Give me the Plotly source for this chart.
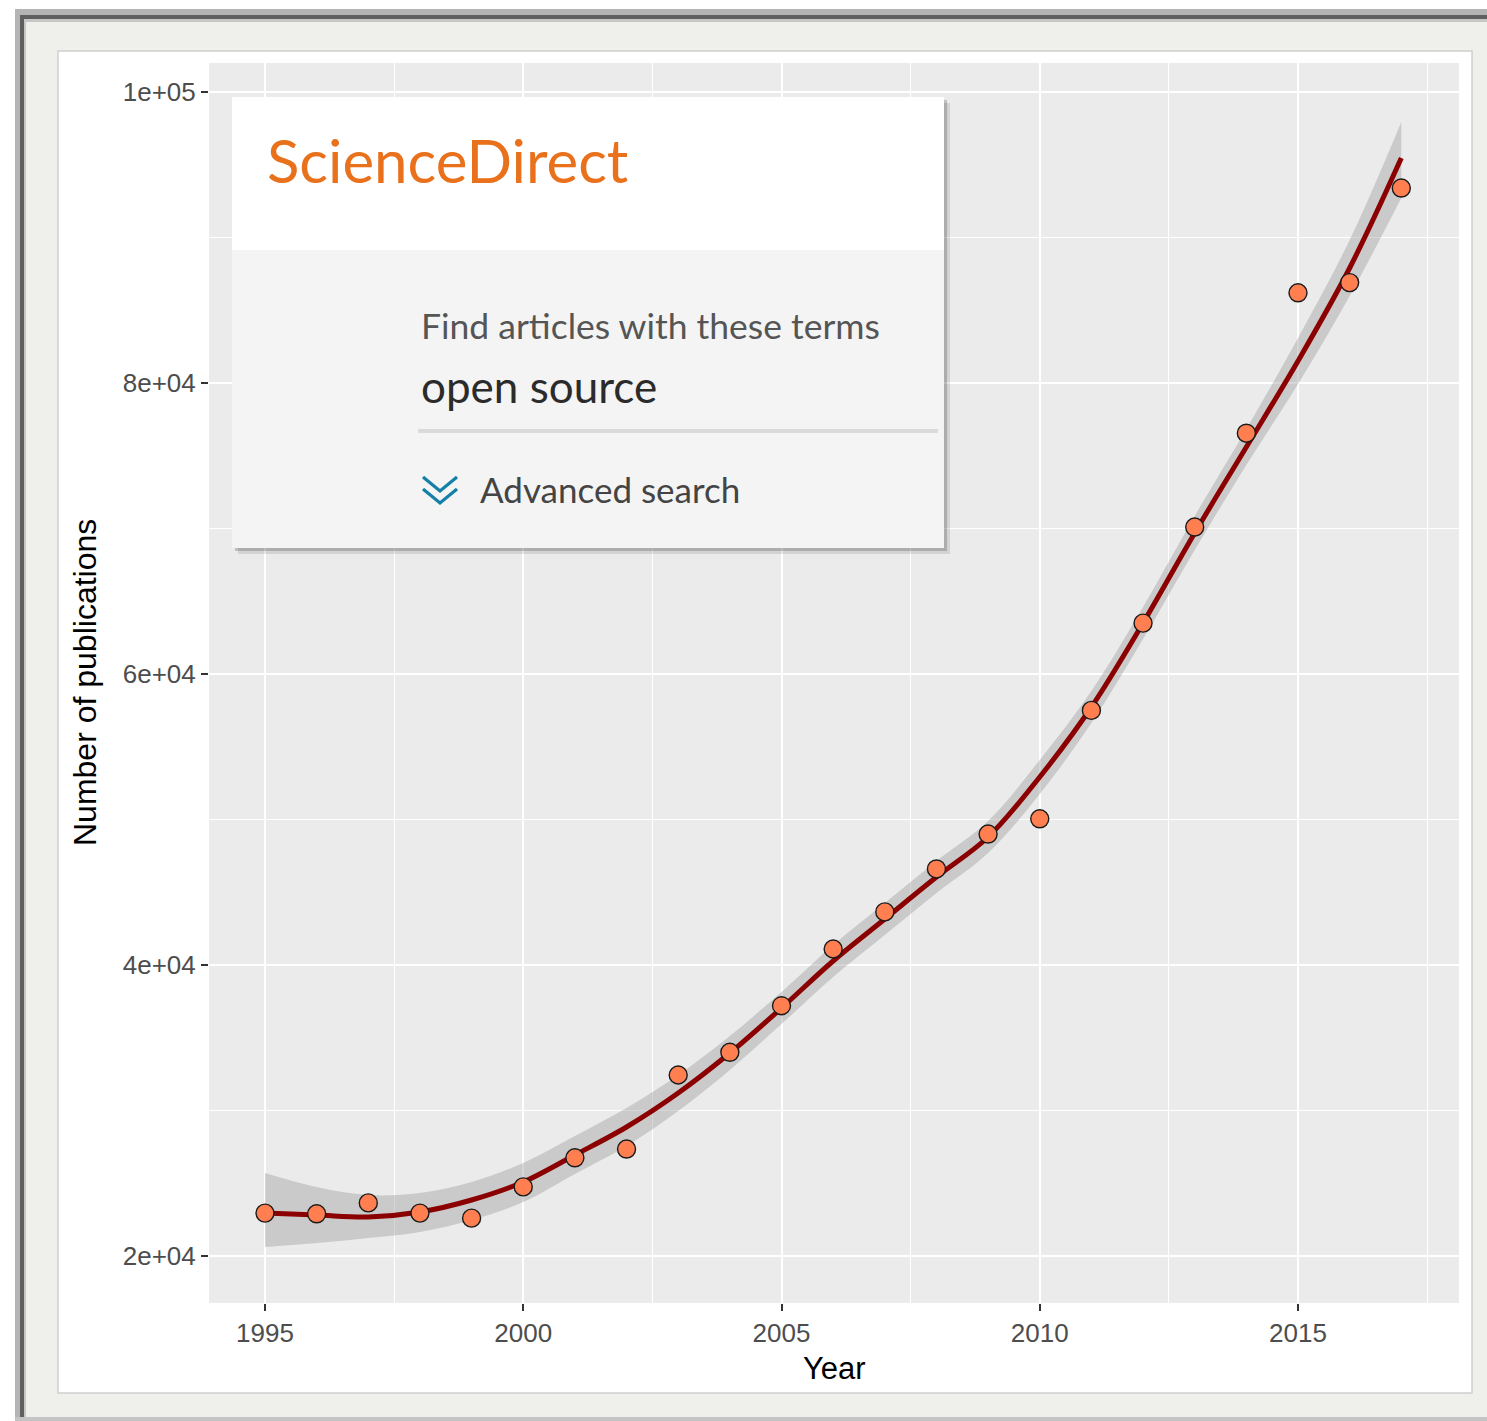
import plotly.graph_objects as go

# ---- data -------------------------------------------------------------
years = list(range(1995, 2018))

# yearly publication counts for the query "open source"
publications = [22950, 22900, 23650, 22950, 22600, 24750, 26750, 27350,
                32440, 34000, 37200, 41100, 43650, 46600, 49000, 50050,
                57500, 63500, 70100, 76550, 86200, 86900, 93400]

# smoothed trend (loess) with its confidence band
trend_fit = [22955, 22818, 22680, 23024, 23849, 25086, 26942, 28866,
             31203, 33952, 37045, 40275, 43162, 46048, 48797, 52921,
             57732, 63505, 69691, 75602, 81512, 87904, 95464]
trend_upper = [25705, 24742, 24192, 24330, 25086, 26392, 28248, 30172,
               32440, 35120, 38144, 41375, 44261, 47148, 49897, 54090,
               58832, 64605, 70859, 76839, 83093, 89829, 97939]
trend_lower = [20619, 20893, 21237, 21650, 22474, 23711, 25636, 27560,
               29966, 32784, 35945, 39175, 42062, 44949, 47698, 51753,
               56633, 62406, 68523, 74365, 79932, 85980, 92717]

x_ticks = [1995, 2000, 2005, 2010, 2015]
y_ticks = [20000, 40000, 60000, 80000, 100000]
y_tick_labels = ["2e+04", "4e+04", "6e+04", "8e+04", "1e+05"]

# ---- page geometry (pixels) ------------------------------------------
W, H = 1487, 1421
PL, PR, PT, PB = 209, 1459, 63, 1303      # plotting panel edges


def px(x):
    return (x - PL) / (PR - PL)


def py(y):
    return (PB - y) / (PB - PT)


fig = go.Figure()

# confidence band
fig.add_trace(go.Scatter(x=years, y=trend_lower, mode="lines",
                         line=dict(width=0, shape="spline"),
                         hoverinfo="skip", showlegend=False))
fig.add_trace(go.Scatter(x=years, y=trend_upper, mode="lines",
                         line=dict(width=0, shape="spline"),
                         fill="tonexty", fillcolor="rgba(153,153,153,0.4)",
                         hoverinfo="skip", showlegend=False))
# smoothed line
fig.add_trace(go.Scatter(x=years, y=trend_fit, mode="lines",
                         line=dict(color="#8b0000", width=5, shape="spline"),
                         showlegend=False))
# observed counts
fig.add_trace(go.Scatter(x=years, y=publications, mode="markers",
                         marker=dict(size=18, color="#ff7f50",
                                     line=dict(color="#1a1a1a", width=1.4)),
                         showlegend=False))

tick_font = dict(family="Liberation Sans, Arial, sans-serif", size=26,
                 color="#4d4d4d")

fig.update_xaxes(range=[1993.916, 2018.117], tickmode="array",
                 tickvals=x_ticks, ticktext=[str(v) for v in x_ticks],
                 ticks="outside", ticklen=7, tickwidth=2, tickcolor="#333333",
                 tickfont=tick_font, showgrid=True, gridcolor="white",
                 gridwidth=2.2, zeroline=False, showline=False,
                 minor=dict(tickmode="linear", tick0=1997.5, dtick=5,
                            showgrid=True, gridcolor="white", gridwidth=1.1,
                            ticks=""))
fig.update_yaxes(range=[16770, 101993], tickmode="array",
                 tickvals=y_ticks, ticktext=y_tick_labels,
                 ticks="outside", ticklen=7, tickwidth=2, tickcolor="#333333",
                 tickfont=tick_font, showgrid=True, gridcolor="white",
                 gridwidth=2.2, zeroline=False, showline=False,
                 minor=dict(tickmode="linear", tick0=30000, dtick=20000,
                            showgrid=True, gridcolor="white", gridwidth=1.1,
                            ticks=""))

shapes = []


def rect(x0, y0, x1, y1, fill, line=None, layer="below", lw=0):
    shapes.append(dict(type="rect", xref="paper", yref="paper",
                       x0=px(x0), x1=px(x1), y0=py(y1), y1=py(y0),
                       fillcolor=fill, layer=layer,
                       line=dict(color=line or fill, width=lw)))


# mounting frame behind the chart
rect(15, 9, W, H, "#efefec")
rect(15, 9, W, 15, "#b4b4b4")
rect(15, 15, W, 19, "#5f5f5f")
rect(15, 19, W, 22, "#c6c6c6")
rect(15, 9, 20, H, "#b4b4b4")
rect(20, 15, 24, H, "#5f5f5f")
rect(24, 19, 26, H, "#c6c6c6")
rect(15, 1417, W, H, "#c4c4c4")
rect(58, 51, 1472, 1393, "white", line="#cfcfcf", lw=1.5)
# grey panel (gridlines are drawn on top of it)
rect(PL, PT, PR, PB, "#ebebeb")

# search box inset
rect(238, 103, 950, 554, "rgba(0,0,0,0.10)", layer="above")
rect(235, 100, 947, 551, "rgba(0,0,0,0.18)", layer="above")
rect(232, 97, 944, 548, "#f4f4f4", layer="above")
rect(232, 97, 944, 250, "white", layer="above")
rect(418, 429, 938, 433, "#dadada", layer="above")
shapes.append(dict(type="path", xref="paper", yref="paper", layer="above",
                   path=(f"M{px(423)},{py(477)} L{px(440)},{py(491)} "
                         f"L{px(457)},{py(477)} M{px(423)},{py(489)} "
                         f"L{px(440)},{py(503)} L{px(457)},{py(489)}"),
                   line=dict(color="#1480a8", width=3.2)))

ui_font = "Lato, 'Open Sans', sans-serif"
annotations = [
    dict(text="ScienceDirect", x=px(265), y=py(160), xanchor="left",
         yanchor="middle", font=dict(family=ui_font, size=60,
                                     color="#e9711c")),
    dict(text="Find articles with these terms", x=px(419), y=py(326),
         xanchor="left", yanchor="middle",
         font=dict(family=ui_font, size=35.5, color="#555555")),
    dict(text="open source", x=px(419), y=py(386), xanchor="left",
         yanchor="middle", font=dict(family=ui_font, size=44,
                                     color="#2b2b2b")),
    dict(text="Advanced search", x=px(478), y=py(489), xanchor="left",
         yanchor="middle", font=dict(family=ui_font, size=35,
                                     color="#444444")),
    # axis titles
    dict(text="Year", x=px(834), y=py(1368), xanchor="center",
         yanchor="middle", font=dict(family="Liberation Sans, Arial",
                                     size=31, color="black")),
    dict(text="Number of publications", x=px(85), y=py(683),
         xanchor="center", yanchor="middle", textangle=-90,
         font=dict(family="Liberation Sans, Arial", size=32,
                   color="black")),
]
for a in annotations:
    a.update(xref="paper", yref="paper", showarrow=False)

fig.update_layout(width=W, height=H, autosize=False,
                  margin=dict(l=PL, r=W - PR, t=PT, b=H - PB, pad=0),
                  paper_bgcolor="white", plot_bgcolor="#ebebeb",
                  shapes=shapes, annotations=annotations,
                  showlegend=False)

fig.write_html("out.html")
